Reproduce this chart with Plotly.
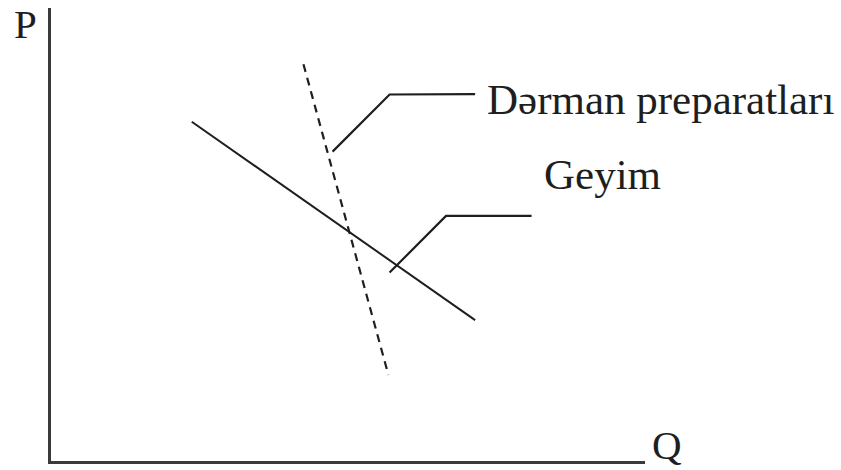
"""Demand elasticity sketch: Geyim vs. Dərman preparatları."""

import plotly.graph_objects as go

# Q / P values (0-100 scale on both axes)
geyim_q = [23.7, 71.4]
geyim_p = [74.9, 31.1]

derman_q = [42.5, 56.8]
derman_p = [87.6, 19.0]

# leader lines from the curves to their labels
derman_leader_q = [47.4, 57.0, 71.4]
derman_leader_p = [68.3, 80.9, 81.0]
geyim_leader_q = [57.0, 66.5, 80.9]
geyim_leader_p = [41.6, 54.1, 54.1]

labels = ["Dərman preparatları", "Geyim"]
label_q = [73.1, 82.7]
label_p = [79.9, 63.3]

# axis letters, same 0-100 scale (they sit just outside the plot area)
axis_names = ["P", "Q"]
axis_name_q = [-6.6, 100.8]
axis_name_p = [96.4, 3.5]

INK = "#1e1e1e"
FONT = "Liberation Serif"

fig = go.Figure()

fig.add_trace(go.Scatter(
    x=geyim_q, y=geyim_p, mode="lines",
    line=dict(color=INK, width=2), hoverinfo="skip",
))
fig.add_trace(go.Scatter(
    x=derman_q, y=derman_p, mode="lines",
    line=dict(color=INK, width=2.2, dash="8px,6px"), hoverinfo="skip",
))
for lq, lp in [(derman_leader_q, derman_leader_p), (geyim_leader_q, geyim_leader_p)]:
    fig.add_trace(go.Scatter(
        x=lq, y=lp, mode="lines",
        line=dict(color=INK, width=2.2), hoverinfo="skip",
    ))

for text, q, p in zip(labels, label_q, label_p):
    fig.add_annotation(
        x=q, y=p, text=text, showarrow=False,
        xanchor="left", yanchor="middle",
        font=dict(family=FONT, size=43, color=INK),
    )

# paper coords so they are not hidden outside the axis range
for text, q, p in zip(axis_names, axis_name_q, axis_name_p):
    fig.add_annotation(
        x=q / 100, y=p / 100, xref="paper", yref="paper",
        text=text, showarrow=False, xanchor="left", yanchor="middle",
        font=dict(family=FONT, size=41, color=INK),
    )

fig.update_layout(
    width=841, height=470,
    margin=dict(l=51, r=196, t=8, b=9),
    paper_bgcolor="white", plot_bgcolor="white",
    showlegend=False,
)
fig.update_xaxes(range=[0, 100], showline=True, linecolor="#3a3a3a", linewidth=3,
                 showgrid=False, zeroline=False, showticklabels=False, ticks="")
fig.update_yaxes(range=[0, 100], showline=True, linecolor="#3a3a3a", linewidth=3,
                 showgrid=False, zeroline=False, showticklabels=False, ticks="")

# drop the default 8px body margin so the figure fills the window
fig.write_html(
    "out.html",
    config={"displayModeBar": False},
    post_script="document.body.style.margin = '0';",
)
